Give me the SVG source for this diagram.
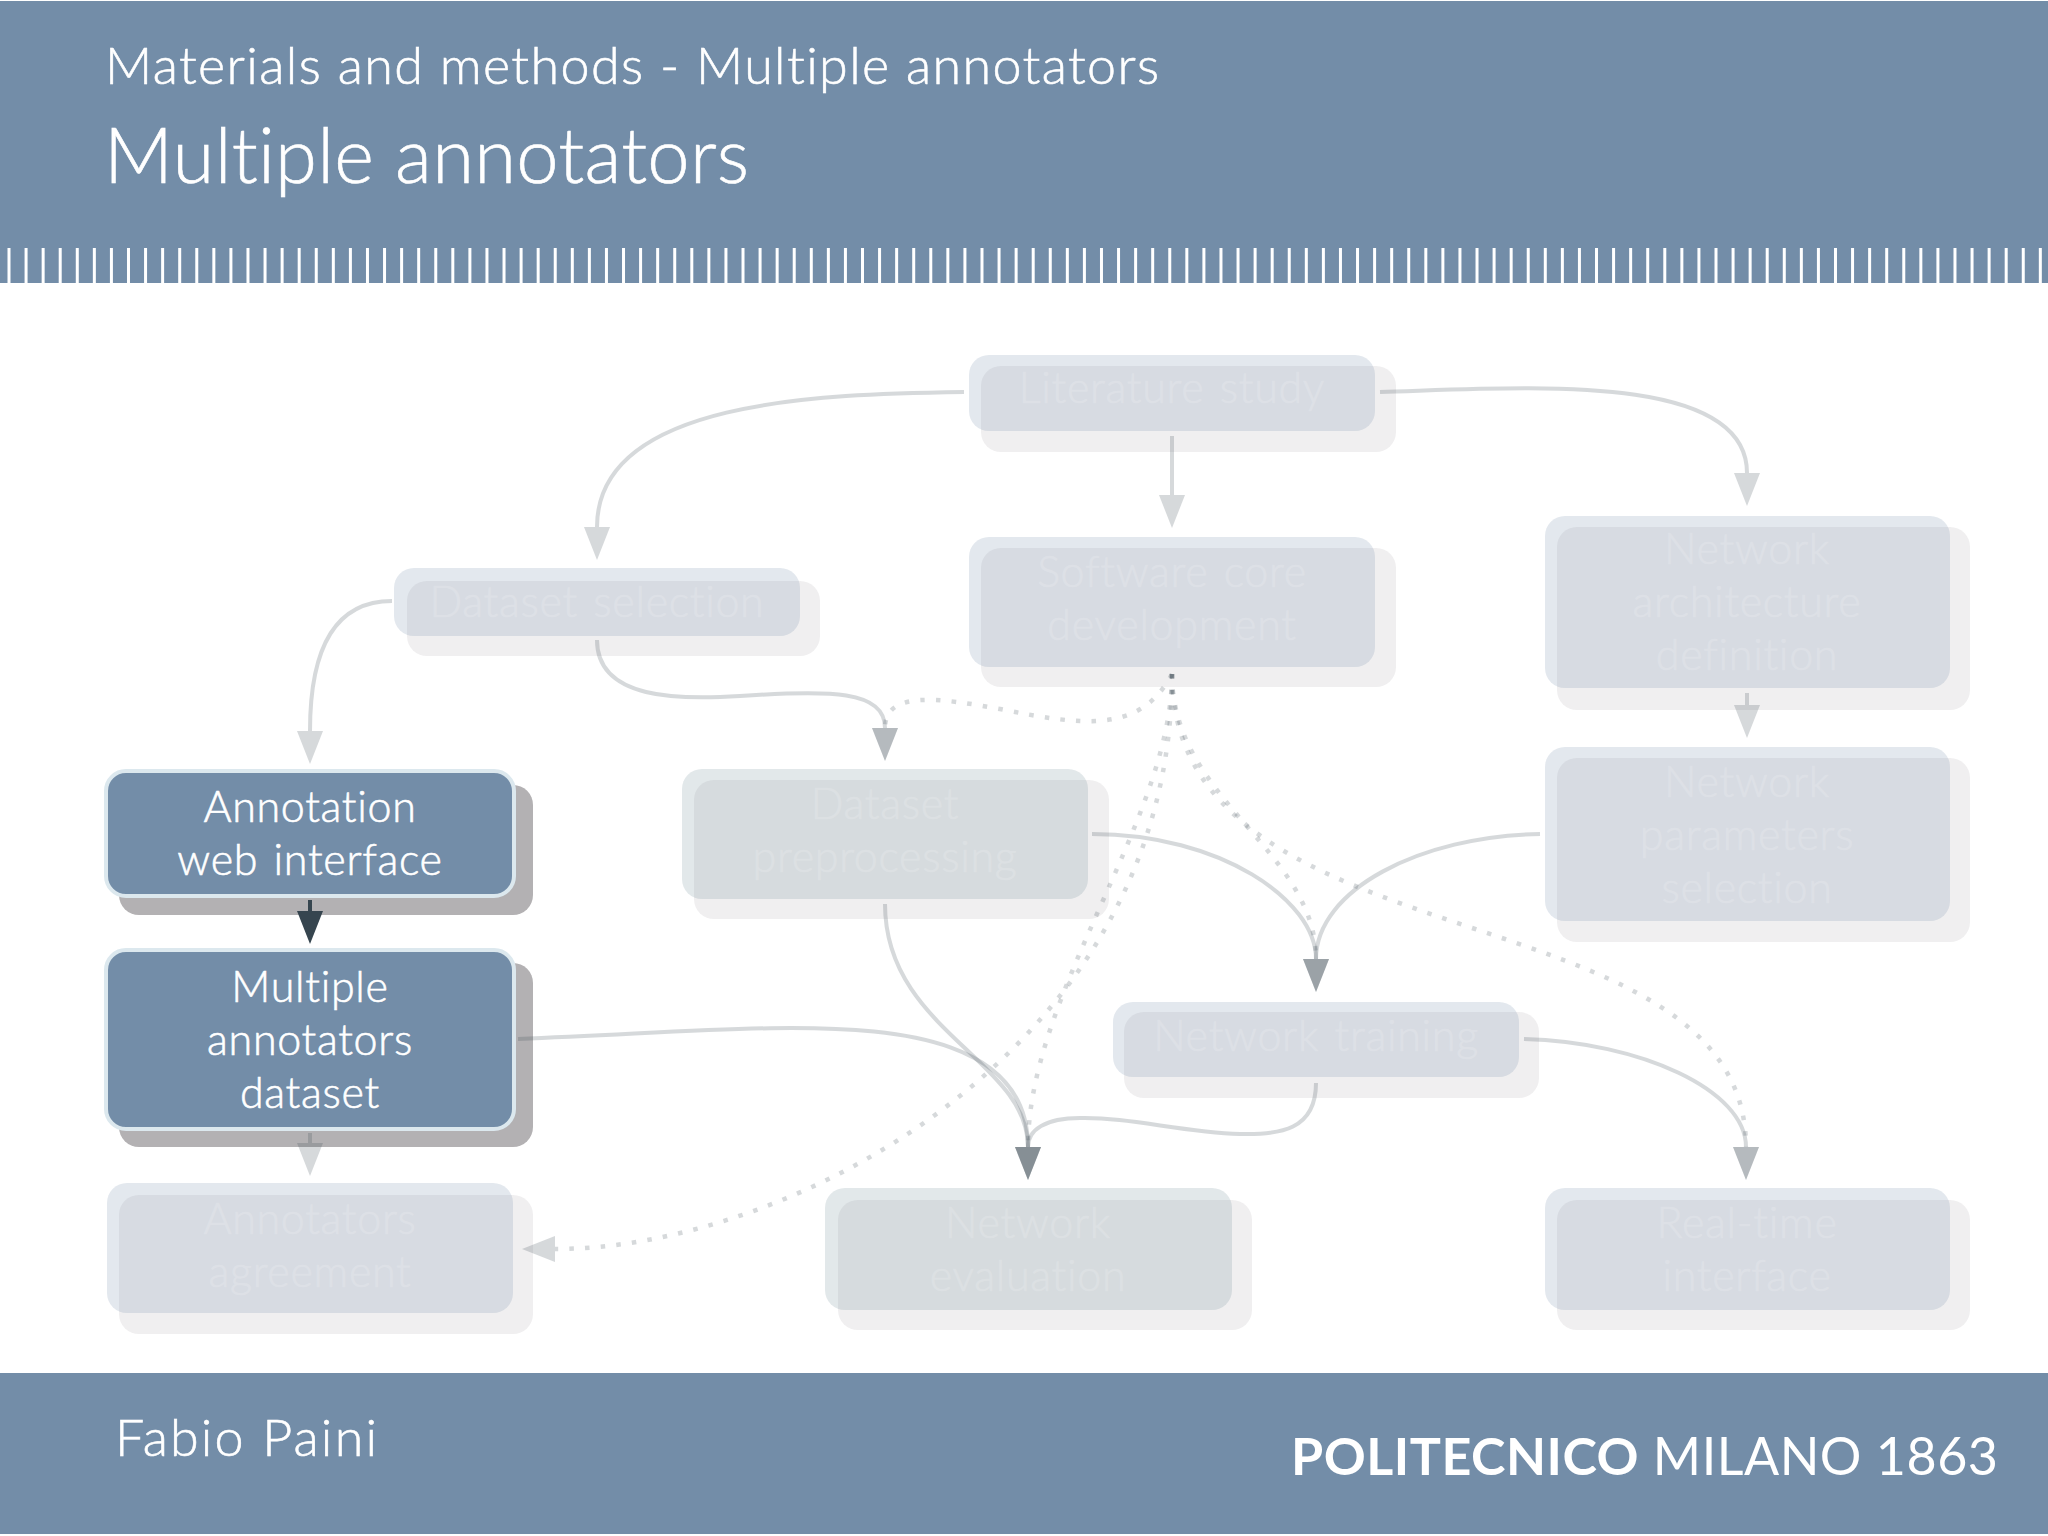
<svg xmlns="http://www.w3.org/2000/svg" width="2048" height="1536" viewBox="0 0 2048 1536">
<style>
text{font-family:"Lato","Open Sans","Liberation Sans",sans-serif;font-weight:300;fill:#fff;font-variant-ligatures:none;stroke:#fff;stroke-width:.6px}
.band{fill:#738da8}
.t{font-size:43px;text-anchor:middle;letter-spacing:.7px;word-spacing:3px}
.sh{fill:#b3b1b3}.bx{fill:#738da8;stroke:#dce8ee;stroke-width:4}
.f .sh{fill:#b3b1b3;opacity:.2}.f .bx{opacity:.2;stroke:none}.f .t{opacity:.16}
.f .g{fill:#6e8c96}
.c{fill:none;stroke:#36454f;stroke-width:4;opacity:.2;marker-end:url(#h)}
.d{stroke-width:4.5;stroke-dasharray:4.5 11.2}
.on{opacity:1}
</style>
<defs><marker id="h" markerUnits="userSpaceOnUse" markerWidth="34" markerHeight="28" viewBox="0 0 34 28" refX="0" refY="14" orient="auto"><path d="M0 1L33 14L0 27Z" fill="#36454f"/></marker></defs>
<rect width="2048" height="1536" fill="#fff"/>
<g id="header"><rect class="band" y="1" width="2048" height="282"/>
<line x1="7.5" y1="265.5" x2="2048" y2="265.5" stroke="#fff" stroke-width="35" stroke-dasharray="3 14.07"/>
<text x="105" y="84" font-size="52" textLength="1054">Materials and methods - Multiple annotators</text>
<text x="104" y="183" font-size="76" textLength="645">Multiple annotators</text></g>
<g id="footer"><rect class="band" y="1373" width="2048" height="161"/>
<text x="115" y="1456" font-size="52" textLength="262">Fabio Paini</text>
<text x="1291" y="1475" font-size="52" textLength="707" style="font-weight:400;stroke-width:0"><tspan style="font-weight:700">POLITECNICO</tspan> MILANO 1863</text></g>

<g id="n-literature" class="f"><rect class="sh" x="981" y="366" width="415" height="86" rx="20"/><rect class="bx" x="969" y="355" width="406" height="76" rx="20"/><text class="t" x="1172" y="403">Literature study</text></g>
<g id="n-dataset-selection" class="f"><rect class="sh" x="407" y="581" width="413" height="75" rx="20"/><rect class="bx" x="394" y="568" width="406" height="68" rx="20"/><text class="t" x="597" y="617">Dataset selection</text></g>
<g id="n-software" class="f"><rect class="sh" x="981" y="548" width="415" height="139" rx="20"/><rect class="bx" x="969" y="537" width="406" height="130" rx="20"/><text class="t" x="1172" y="587">Software core</text><text class="t" x="1172" y="640">development</text></g>
<g id="n-architecture" class="f"><rect class="sh" x="1557" y="527" width="413" height="183" rx="20"/><rect class="bx" x="1545" y="516" width="405" height="172" rx="20"/><text class="t" x="1747" y="564">Network</text><text class="t" x="1747" y="617">architecture</text><text class="t" x="1747" y="670">definition</text></g>
<g id="n-parameters" class="f"><rect class="sh" x="1557" y="758" width="413" height="184" rx="20"/><rect class="bx" x="1545" y="747" width="405" height="174" rx="20"/><text class="t" x="1747" y="797">Network</text><text class="t" x="1747" y="850">parameters</text><text class="t" x="1747" y="903">selection</text></g>
<g id="n-preprocessing" class="f"><rect class="sh" x="694" y="780" width="415" height="139" rx="20"/><rect class="bx g" x="682" y="769" width="406" height="130" rx="20"/><text class="t" x="885" y="819">Dataset</text><text class="t" x="885" y="872">preprocessing</text></g>
<g id="n-training" class="f"><rect class="sh" x="1124" y="1012" width="415" height="86" rx="20"/><rect class="bx" x="1113" y="1002" width="406" height="75" rx="20"/><text class="t" x="1316" y="1051">Network training</text></g>
<g id="n-agreement" class="f"><rect class="sh" x="119" y="1195" width="414" height="139" rx="20"/><rect class="bx" x="107" y="1183" width="406" height="130" rx="20"/><text class="t" x="310" y="1234">Annotators</text><text class="t" x="310" y="1287">agreement</text></g>
<g id="n-evaluation" class="f"><rect class="sh" x="838" y="1200" width="414" height="130" rx="20"/><rect class="bx g" x="825" y="1188" width="407" height="122" rx="20"/><text class="t" x="1028" y="1238">Network</text><text class="t" x="1028" y="1291">evaluation</text></g>
<g id="n-realtime" class="f"><rect class="sh" x="1557" y="1200" width="413" height="130" rx="20"/><rect class="bx" x="1545" y="1188" width="405" height="122" rx="20"/><text class="t" x="1747" y="1238">Real-time</text><text class="t" x="1747" y="1291">interface</text></g>
<g id="n-annotation"><rect class="sh" x="119" y="785" width="414" height="130" rx="20"/><rect class="bx" x="106" y="771" width="408" height="125" rx="20"/><text class="t" x="310" y="822">Annotation</text><text class="t" x="310" y="875">web interface</text></g>
<g id="n-multiple"><rect class="sh" x="119" y="963" width="414" height="184" rx="20"/><rect class="bx" x="106" y="950" width="408" height="179" rx="20"/><text class="t" x="310" y="1002">Multiple</text><text class="t" x="310" y="1055">annotators</text><text class="t" x="310" y="1108">dataset</text></g>

<g id="connectors">
<path class="c" d="M964 392C820 394 597 400 597 527"/>
<path class="c" d="M1172 436V495"/>
<path class="c" d="M1380 392C1520 388 1747 370 1747 473"/>
<path class="c" d="M392 601C340 601 310 640 310 731"/>
<path class="c" d="M597 640C597 700 680 700 740 696C830 690 885 690 885 728"/>
<path class="c d" d="M1172 674C1140 735 1080 725 1000 709C940 698 885 690 885 728"/>
<path class="c d" d="M1172 674C1172 800 1316 850 1316 959"/>
<path class="c d" d="M1172 674C1172 819 1028 993 1028 1147"/>
<path class="c d" d="M1172 674C1172 1050 790 1249 555 1249"/>
<path class="c d" d="M1172 674C1172 972 1746 884 1746 1147"/>
<path class="c" d="M1747 693V705"/>
<path class="c" d="M1540 834C1420 836 1316 890 1316 959"/>
<path class="c" d="M1092 834C1220 834 1316 900 1316 959"/>
<path class="c" d="M885 904C885 1030 1028 1060 1028 1147"/>
<path class="c" d="M518 1039C640 1034 720 1028 791 1028C900 1028 1028 1040 1028 1147"/>
<path class="c" d="M1316 1083C1316 1130 1280 1135 1240 1134C1180 1132 1130 1117 1080 1118C1045 1118 1028 1130 1028 1147"/>
<path class="c" d="M1524 1039C1640 1042 1746 1090 1746 1147"/>
<path class="c on" d="M310 900V911"/>
<path class="c" d="M310 1133V1143"/>
</g>
</svg>
